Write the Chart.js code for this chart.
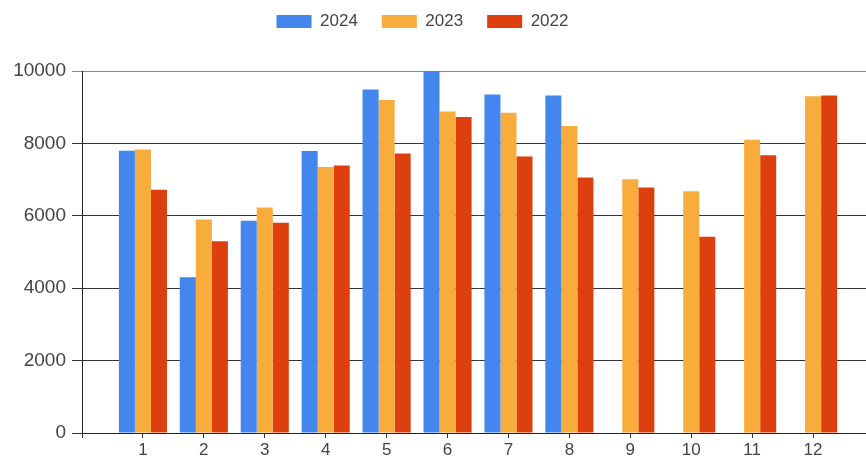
<!DOCTYPE html>
<html>
<head>
<meta charset="utf-8">
<script src="https://cdn.jsdelivr.net/npm/chart.js@4.4.1/dist/chart.umd.min.js"></script>
<style>
  html, body { margin: 0; padding: 0; background: #fff; overflow: hidden; }
  #wrap { width: 876px; height: 456px; position: relative; }
</style>
</head>
<body>
<div id="wrap"><canvas id="c" width="876" height="456"></canvas></div>
<script>
// Months (categories)
const months = ['1','2','3','4','5','6','7','8','9','10','11','12'];
// Series values
const s2024 = [7800, 4300, 5860, 7790, 9490, 10000, 9350, 9320, null, null, null, null];
const s2023 = [7830, 5900, 6230, 7350, 9200, 8880, 8850, 8480, 7010, 6680, 8100, 9300];
const s2022 = [6720, 5300, 5810, 7390, 7720, 8730, 7640, 7060, 6780, 5420, 7670, 9320];
// Y tick values
const yTicks = [0, 2000, 4000, 6000, 8000, 10000];

const seriesNames = ['2024', '2023', '2022'];
const seriesColors = ['#4286EE', '#F8AC3C', '#DD400E'];

// Pad the category axis with an empty slot on each side (axis runs 0..13)
const labels = [''].concat(months, ['']);
const pad = arr => [null].concat(arr, [null]);

const font = "'Liberation Sans', Arial, sans-serif";

const legendTweak = {
  id: 'legendTweak',
  beforeInit(chart) {
    const orig = chart.legend.fit;
    chart.legend.fit = function () {
      orig.bind(chart.legend)();
      this.height = 71;
    };
  },
  afterLayout(chart) {
    const lg = chart.legend;
    lg.left -= 15; lg.right -= 15;
    lg.top -= 11; lg.bottom -= 11;
  }
};

new Chart(document.getElementById('c'), {
  type: 'bar',
  data: {
    labels: labels,
    datasets: [
      { label: seriesNames[0], data: pad(s2024), backgroundColor: seriesColors[0] },
      { label: seriesNames[1], data: pad(s2023), backgroundColor: seriesColors[1] },
      { label: seriesNames[2], data: pad(s2022), backgroundColor: seriesColors[2] }
    ]
  },
  options: {
    responsive: false,
    animation: false,
    devicePixelRatio: 1,
    layout: { padding: { left: 0, right: 1, top: 0, bottom: 0 } },
    datasets: {
      bar: { barPercentage: 1.0, categoryPercentage: 0.79, borderWidth: 0 }
    },
    plugins: {
      legend: {
        position: 'top',
        align: 'center',
        labels: {
          boxWidth: 35,
          boxHeight: 13,
          padding: 24,
          color: '#444',
          font: { family: font, size: 17 }
        }
      },
      tooltip: { enabled: false }
    },
    scales: {
      x: {
        offset: false,
        grid: {
          offset: false,
          drawOnChartArea: false,
          drawTicks: true,
          tickLength: 5,
          color: '#333'
        },
        border: { display: true, color: '#222', width: 1 },
        ticks: {
          autoSkip: false,
          maxRotation: 0,
          padding: 2,
          color: '#444',
          font: { family: font, size: 17 }
        },
        afterFit(scale) { scale.height = 23; }
      },
      y: {
        min: 0,
        max: 10000,
        afterBuildTicks(scale) { scale.ticks = yTicks.map(v => ({ value: v })); },
        grid: {
          drawTicks: true,
          tickLength: 10,
          color: ctx => (ctx.tick && ctx.tick.value === 10000) ? '#888' : '#333',
          lineWidth: 1
        },
        border: { display: true, color: '#222', width: 1 },
        ticks: {
          padding: 6,
          color: '#444',
          font: { family: font, size: 19 },
          callback: v => String(v)
        },
        afterFit(scale) { scale.width = 82; }
      }
    }
  },
  plugins: [legendTweak]
});
</script>
</body>
</html>
